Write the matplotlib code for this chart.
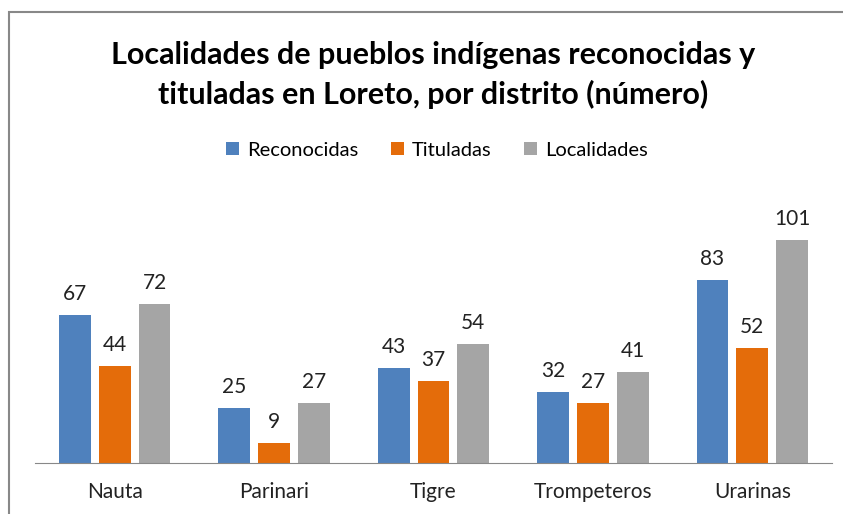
import numpy as np
import matplotlib
matplotlib.use("Agg")
import matplotlib.pyplot as plt
from matplotlib.patches import Rectangle

distritos = ["Nauta", "Parinari", "Tigre", "Trompeteros", "Urarinas"]
reconocidas = [67, 25, 43, 32, 83]
tituladas = [44, 9, 37, 27, 52]
localidades = [72, 27, 54, 41, 101]
series = ["Reconocidas", "Tituladas", "Localidades"]
colores = ["#4F81BD", "#E46C0A", "#A5A5A5"]

plt.rcParams['font.family'] = ['Lato', 'DejaVu Sans']

W, H = 843, 514
fig = plt.figure(figsize=(W / 100, H / 100), dpi=100)
ax = fig.add_axes([35 / W, (H - 463) / H, (832 - 35) / W, (463 - 200) / H])

x = np.arange(len(distritos))
w = 0.2
off = 0.25
for i, (vals, c, lab) in enumerate(zip([reconocidas, tituladas, localidades], colores, series)):
    pos = x + (i - 1) * off
    bars = ax.bar(pos, vals, width=w, color=c, label=lab)
    for b, v in zip(bars, vals):
        ax.text(b.get_x() + b.get_width() / 2, v + 5, str(v), ha="center", va="bottom",
                fontsize=15, color="#222222")

ax.set_xlim(-0.5, len(distritos) - 0.5)
ax.set_ylim(0, 263 / 2.21)
ax.set_xticks(x)
ax.set_xticklabels(distritos, fontsize=15, color="#222222")
ax.tick_params(axis="x", length=0, pad=14)
ax.set_yticks([])
for s in ["top", "right", "left"]:
    ax.spines[s].set_visible(False)
ax.spines["bottom"].set_color("#888888")

fig.text(433 / W, 1 - 75 / H, "Localidades de pueblos indígenas reconocidas y\ntituladas en Loreto, por distrito (número)",
         ha="center", va="center", fontsize=22, fontweight="bold", linespacing=1.42)

fig.legend(loc="center", bbox_to_anchor=(437 / W, 1 - 150 / H), ncol=3, frameon=False,
           fontsize=14.5, handlelength=0.65, handleheight=0.65, handletextpad=0.4, columnspacing=1.6)

fig.patches.append(Rectangle((9 / W, -0.1), 1.1, 1.1 - 12 / H, transform=fig.transFigure,
                             fill=False, edgecolor="#888888", linewidth=1.5))

fig.savefig("out.png", dpi=100, facecolor="white")
